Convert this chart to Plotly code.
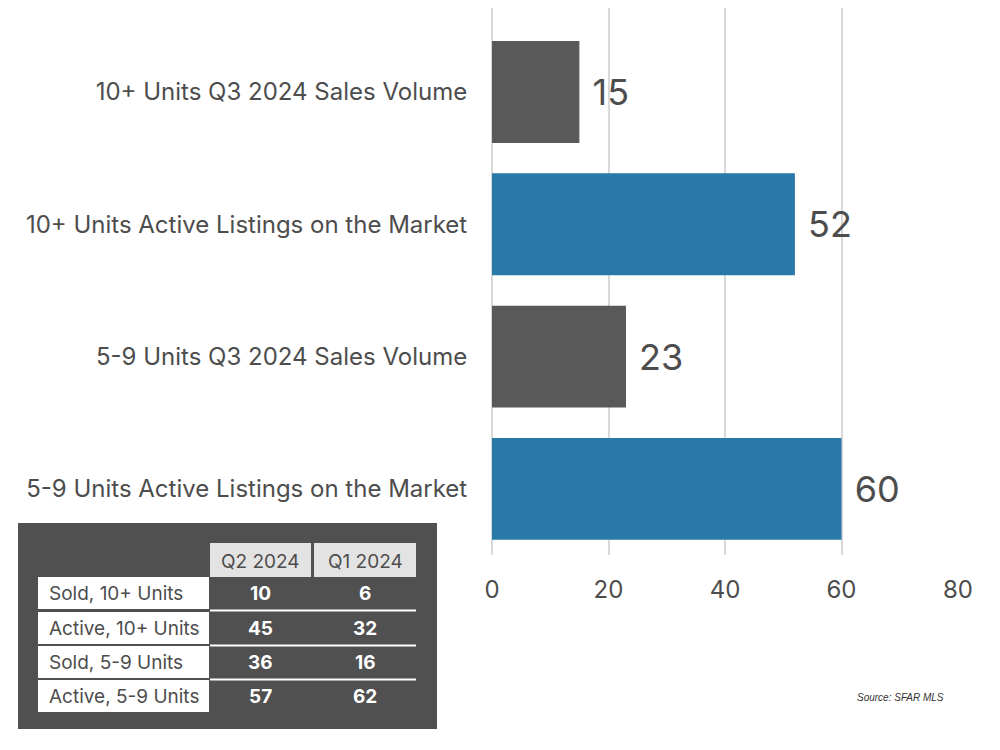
import plotly.graph_objects as go

categories = [
    "10+ Units Q3 2024 Sales Volume",
    "10+ Units Active Listings on the Market",
    "5-9 Units Q3 2024 Sales Volume",
    "5-9 Units Active Listings on the Market",
]
values = [15, 52, 23, 60]
bar_colors = ["#595959", "#2878a8", "#595959", "#2878a8"]

table_cols = ["Q2 2024", "Q1 2024"]
table_rows = ["Sold, 10+ Units", "Active, 10+ Units", "Sold, 5-9 Units", "Active, 5-9 Units"]
table_q2 = [10, 45, 36, 57]
table_q1 = [6, 32, 16, 62]

W, H = 1000, 750
OFF = 8  # page body margin
ML, MT = 484, 0
PW = 466
MR = W - ML - PW
MB = 203
PH = H - MT - MB

def px(x):
    return (x - OFF - ML) / PW

def py(y):
    return (H - MB - (y - OFF)) / PH

FONT = "Inter"
TXT = "#4d4d4d"
fig = go.Figure()
fig.add_trace(go.Bar(
    x=values, y=categories, orientation="h",
    marker=dict(color=bar_colors, line=dict(width=0)),
    width=0.77,
    text=[" " + str(v) for v in values], textposition="outside",
    textfont=dict(size=36, color=TXT, family=FONT),
    cliponaxis=False,
))

shapes = []
annotations = []
shapes.append(dict(type="rect", xref="paper", yref="paper", x0=px(18), x1=px(437), y0=py(729), y1=py(523),
                   fillcolor="#505050", line=dict(width=0), layer="above"))
col_x = [(210, 311), (314, 416)]
for (x0, x1), lab in zip(col_x, table_cols):
    shapes.append(dict(type="rect", xref="paper", yref="paper", x0=px(x0), x1=px(x1), y0=py(577), y1=py(543),
                       fillcolor="#e3e3e3", line=dict(width=0), layer="above"))
    annotations.append(dict(x=px((x0 + x1) / 2), y=py(561), xref="paper", yref="paper", text=lab,
                            xanchor="center", yanchor="middle",
                            showarrow=False, font=dict(size=19, color=TXT, family=FONT)))
row_y = [(577, 609), (612, 644), (646, 678), (680, 712)]
for i, ((y0, y1), lab) in enumerate(zip(row_y, table_rows)):
    shapes.append(dict(type="rect", xref="paper", yref="paper", x0=px(38), x1=px(209), y0=py(y1), y1=py(y0),
                       fillcolor="#ffffff", line=dict(width=0), layer="above"))
    cy = (y0 + y1) / 2
    annotations.append(dict(x=px(47), y=py(cy), xref="paper", yref="paper", text=lab,
                            xanchor="left", yanchor="middle",
                            showarrow=False, font=dict(size=19, color=TXT, family=FONT)))
    for (x0, x1), v in zip(col_x, [table_q2[i], table_q1[i]]):
        annotations.append(dict(x=px((x0 + x1) / 2), y=py(cy), xref="paper", yref="paper", text=f"<b>{v}</b>",
                                xanchor="center", yanchor="middle",
                                showarrow=False, font=dict(size=19, color="#ffffff", family=FONT)))
    if i < 3:
        shapes.append(dict(type="line", xref="paper", yref="paper", x0=px(210), x1=px(416),
                           y0=py(y1 + 1.5), y1=py(y1 + 1.5), line=dict(color="#ffffff", width=2), layer="above"))

annotations.append(dict(x=px(946), y=py(697), xref="paper", yref="paper", text="<i>Source: SFAR MLS</i>",
                        xanchor="right", yanchor="middle", showarrow=False,
                        font=dict(size=10, color="#333333", family="Liberation Sans")))

fig.update_layout(
    width=W, height=H,
    margin=dict(l=ML, r=MR, t=MT, b=MB),
    paper_bgcolor="white", plot_bgcolor="white",
    showlegend=False,
    xaxis=dict(range=[0, 80], dtick=20, showgrid=True, gridcolor="#d9d9d9", gridwidth=2,
               zeroline=True, zerolinecolor="#d9d9d9", zerolinewidth=2,
               tickfont=dict(size=24, color=TXT, family=FONT),
               ticks="outside", ticklen=13, tickcolor="rgba(0,0,0,0)", showline=False),
    yaxis=dict(categoryorder="array", categoryarray=categories[::-1], range=[-0.5, 3.635],
               tickfont=dict(size=24, color=TXT, family=FONT),
               ticks="outside", ticklen=19, tickcolor="rgba(0,0,0,0)", showgrid=False, showline=False),
    shapes=shapes, annotations=annotations,
)
fig.write_html("out.html")
